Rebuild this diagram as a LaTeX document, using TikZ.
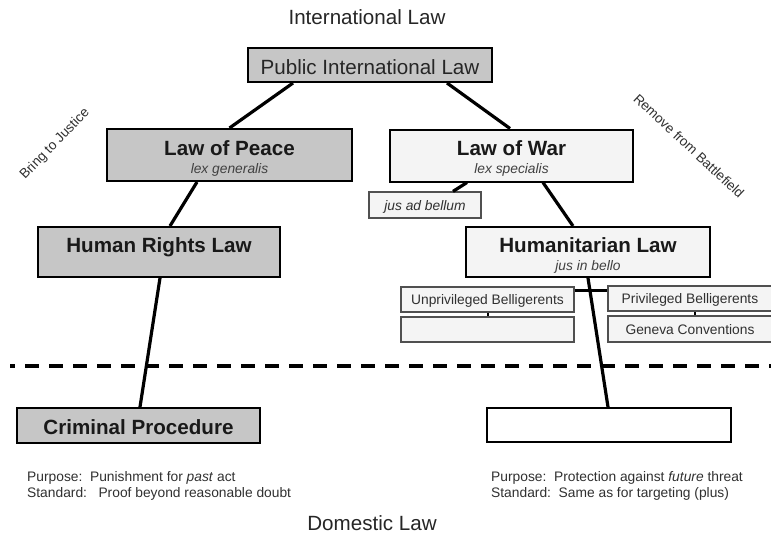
\documentclass[tikz,border=0pt]{standalone}
\usepackage{fontspec}
\setmainfont{Liberation Sans}
\usetikzlibrary{calc}
\definecolor{boxgray}{HTML}{C6C6C6}
\definecolor{boxlight}{HTML}{F4F4F4}
\definecolor{subgray}{HTML}{404040}
\definecolor{txtgray}{HTML}{303030}
\definecolor{smallborder}{HTML}{505050}
\newcommand{\dgTitle}{\fontsize{20.6}{24}\selectfont\bfseries}
\newcommand{\dgReg}{\fontsize{20.6}{24}\selectfont}
\newcommand{\dgSub}{\fontsize{13.8}{16}\selectfont\itshape}
\newcommand{\dgSmall}{\fontsize{13.8}{16}\selectfont}
\begin{document}
\begin{tikzpicture}[x=1pt,y=-1pt,
  bigbox/.style={draw=black, line width=2pt, inner sep=0pt},
  darkbox/.style={bigbox, fill=boxgray},
  lightbox/.style={bigbox, fill=boxlight},
  whitebox/.style={bigbox, fill=white},
  smallbox/.style={draw=smallborder, line width=1.2pt, fill=boxlight, inner sep=0pt,
    font=\dgSmall, text=txtgray, text height=10pt, text depth=0pt},
  ttl/.style={anchor=base, font=\dgTitle, text=black!90},
  reg/.style={anchor=base, font=\dgReg, text=black!85},
  sub/.style={anchor=base, font=\dgSub, text=subgray},
  conn/.style={line width=3.2pt, black},
  tick/.style={line width=2pt, black},
  note/.style={anchor=base west, font=\dgSmall, text=txtgray, inner sep=0pt},
  side/.style={font=\fontsize{13.6}{16}\selectfont, text=txtgray, inner sep=0pt}
]
\useasboundingbox (0,0) rectangle (771,533);

% headings
\node[reg] (intl) at (367,24) {International Law};
\node[reg] (dom) at (372,530) {Domestic Law};

% main boxes
\node[darkbox, minimum width=244pt, minimum height=34pt] (pil) at (370,65) {};
\node[reg] (pilT) at ($(pil)+(0,9)$) {Public International Law};

\node[darkbox, minimum width=245pt, minimum height=52pt] (lop) at (229.5,155) {};
\node[ttl] (lopT) at ($(lop)+(0,0.5)$) {Law of Peace};
\node[sub] (lopS) at ($(lop)+(0,18.5)$) {lex generalis};

\node[lightbox, minimum width=243pt, minimum height=52pt] (low) at (511.5,155.5) {};
\node[ttl] (lowT) at ($(low)+(0,0)$) {Law of War};
\node[sub] (lowS) at ($(low)+(0,18)$) {lex specialis};

\node[darkbox, minimum width=242pt, minimum height=50pt] (hrl) at (159,252) {};
\node[ttl] (hrlT) at ($(hrl)+(0,0)$) {Human Rights Law};

\node[lightbox, minimum width=244pt, minimum height=50pt] (hl) at (588,252) {};
\node[ttl] (hlT) at ($(hl)+(0,0)$) {Humanitarian Law};
\node[sub] (hlS) at ($(hl)+(0,18)$) {jus in bello};

\node[darkbox, minimum width=243pt, minimum height=35pt] (cp) at (138.5,425.5) {};
\node[ttl] (cpT) at ($(cp)+(0,8.5)$) {Criminal Procedure};

\node[whitebox, minimum width=244pt, minimum height=34pt] (tgt) at (609,425) {};

% small boxes
\node[smallbox, minimum width=112pt, minimum height=26pt, font=\dgSub] (jab) at (425,205) {jus ad bellum};
\node[smallbox, minimum width=173pt, minimum height=25pt] (up) at (487.5,299.5) {Unprivileged Belligerents};
\node[smallbox, minimum width=173pt, minimum height=25pt] (ue) at (487.5,329.5) {};
\node[smallbox, minimum width=164pt, minimum height=25pt] (pb) at (690,298.5) {Privileged Belligerents};
\node[smallbox, minimum width=164pt, minimum height=26pt] (gc) at (690,329) {Geneva Conventions};

% connectors
\draw[conn] ($(pil.south)+(-77,0)$) -- (lop.north);
\draw[conn] ($(pil.south)+(77,0)$) -- ($(low.north)+(-1.5,0)$);
\draw[conn] ($(lop.south)+(-32.5,0)$) -- ($(hrl.north)+(11,0)$);
\draw[conn] ($(hrl.south)+(1,0)$) -- ($(cp.north)+(1.5,0)$);
\draw[conn] ($(low.south)+(-44.5,0)$) -- ($(jab.north)+(28,0)$);
\draw[conn] ($(low.south)+(31.5,0)$) -- ($(hl.north)+(-15,0)$);
\draw[conn] (hl.south) -- ($(tgt.north)+(-1,0)$);
\draw[conn, line width=3pt] ($(up.east)+(0,-9.5)$) -- ($(pb.west)+(0,-8.5)$);
\draw[tick] (up.south) -- (ue.north);
\draw[tick] ($(pb.south)+(5,0)$) -- ($(gc.north)+(5,0)$);

% dashed divider
\coordinate (dashL) at (10,366);
\coordinate (dashR) at (771,366);
\draw[line width=4pt, dash pattern=on 14pt off 10pt, dash phase=9pt] (dashL) -- (dashR);

% side labels
\node[side, rotate=46] (bring) at (55,144) {Bring to Justice};
\node[side, rotate=-43] (remove) at (689,146) {Remove from Battlefield};

% notes
\node[note] (lp) at (27,481) {Purpose:\ \ Punishment for \textit{past} act};
\node[note] (ls) at (27,497) {Standard:\ \ \ Proof beyond reasonable doubt};
\node[note] (rp) at (491,481) {Purpose:\ \ Protection against \textit{future} threat};
\node[note] (rs) at (491,497) {Standard:\ \ Same as for targeting (plus)};
\end{tikzpicture}
\end{document}
